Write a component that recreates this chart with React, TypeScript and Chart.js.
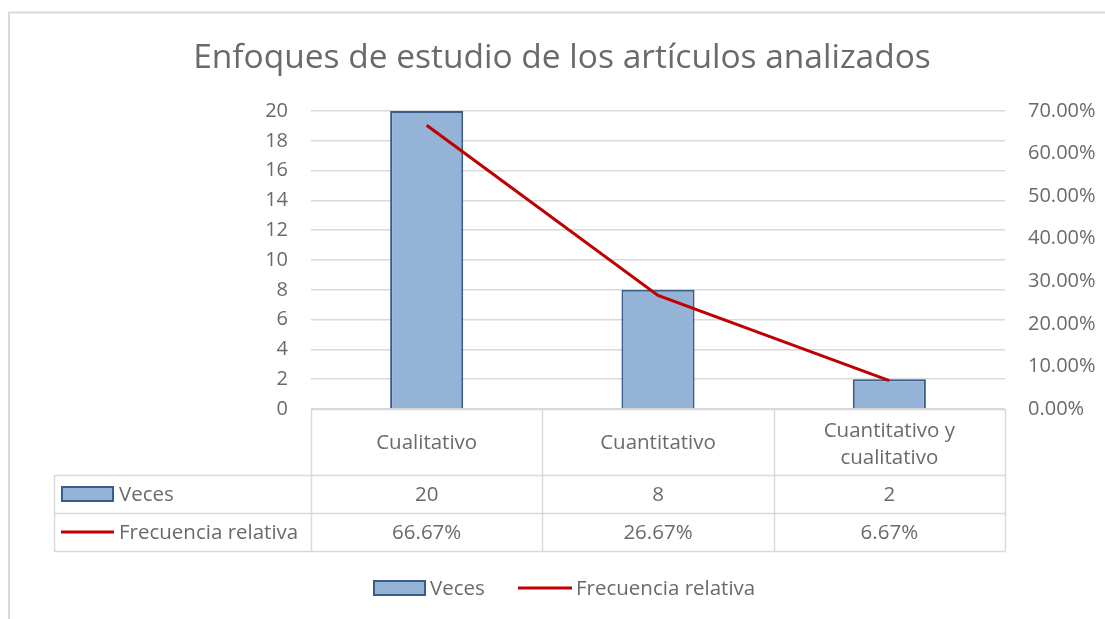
import React, { useEffect, useRef } from "react";
import { Chart, registerables } from "chart.js";

Chart.register(...registerables);

const TITLE = "Enfoques de estudio de los artículos analizados";
const CATEGORIES: (string | string[])[] = ["Cualitativo", "Cuantitativo", ["Cuantitativo y", "cualitativo"]];
const BAR_SERIES = "Veces";
const LINE_SERIES = "Frecuencia relativa";
const VECES = [20, 8, 2];
const FRECUENCIA = [0.6667, 0.2667, 0.0667];
const VECES_TEXT = ["20", "8", "2"];
const FRECUENCIA_TEXT = ["66.67%", "26.67%", "6.67%"];

const FONT = '"Open Sans", sans-serif';
const TEXT = "#6a6a6a";
const GRID = "#d9d9d9";
const BAR_FILL = "#95b3d7";
const BAR_EDGE = "#385d8a";
const LINE_COLOR = "#c00000";

const decor = {
  id: "decor",
  beforeDraw(chart: any) {
    const ctx = chart.ctx;
    ctx.save();
    ctx.fillStyle = "#ffffff";
    ctx.fillRect(0, 0, chart.width, chart.height);
    ctx.strokeStyle = GRID;
    ctx.lineWidth = 2;
    ctx.strokeRect(9, 12.5, chart.width + 50, chart.height + 50);
    ctx.restore();
  },
  afterDraw(chart: any) {
    const ctx = chart.ctx;
    const { left, right, bottom } = chart.chartArea;
    const xs = chart.scales.x;
    const n = CATEGORIES.length;
    const colW = (right - left) / n;
    const hdrB = bottom + 66;
    const r1B = hdrB + 38;
    const r2B = r1B + 38;
    const tableLeft = 54;
    ctx.save();

    // title
    ctx.fillStyle = TEXT;
    ctx.font = `33.5px ${FONT}`;
    ctx.textAlign = "center";
    ctx.textBaseline = "alphabetic";
    ctx.fillText(TITLE, 562, 68);

    // table grid
    ctx.strokeStyle = GRID;
    ctx.lineWidth = 1.5;
    ctx.beginPath();
    ctx.moveTo(left, bottom + 0.5);
    ctx.lineTo(right, bottom + 0.5);
    for (const y of [hdrB, r1B, r2B]) {
      ctx.moveTo(tableLeft, y + 0.5);
      ctx.lineTo(right, y + 0.5);
    }
    for (let i = 0; i <= n; i++) {
      const x = Math.round(left + i * colW) + 0.5;
      ctx.moveTo(x, bottom);
      ctx.lineTo(x, r2B + 0.5);
    }
    ctx.moveTo(tableLeft + 0.5, hdrB);
    ctx.lineTo(tableLeft + 0.5, r2B + 0.5);
    ctx.stroke();

    // table text
    ctx.fillStyle = TEXT;
    ctx.font = `20.5px ${FONT}`;
    ctx.textAlign = "center";
    for (let i = 0; i < n; i++) {
      const cx = xs.getPixelForValue(i);
      const lab = CATEGORIES[i];
      const lines = Array.isArray(lab) ? lab : [lab];
      if (lines.length === 1) {
        ctx.fillText(lines[0], cx, bottom + 40);
      } else {
        ctx.fillText(lines[0], cx, bottom + 28);
        ctx.fillText(lines[1], cx, bottom + 55);
      }
      ctx.fillText(VECES_TEXT[i], cx, hdrB + 26);
      ctx.fillText(FRECUENCIA_TEXT[i], cx, r1B + 26);
    }
    ctx.textAlign = "left";
    ctx.fillText(BAR_SERIES, 119, hdrB + 26);
    ctx.fillText(LINE_SERIES, 119, r1B + 26);

    // table legend keys
    ctx.fillStyle = BAR_FILL;
    ctx.strokeStyle = BAR_EDGE;
    ctx.lineWidth = 2;
    ctx.fillRect(62, hdrB + 12, 51, 14);
    ctx.strokeRect(62, hdrB + 12, 51, 14);
    ctx.strokeStyle = LINE_COLOR;
    ctx.lineWidth = 3;
    ctx.beginPath();
    ctx.moveTo(61, r1B + 19);
    ctx.lineTo(114, r1B + 19);
    ctx.stroke();

    // bottom legend
    const ly = 588;
    ctx.fillStyle = BAR_FILL;
    ctx.strokeStyle = BAR_EDGE;
    ctx.lineWidth = 2;
    ctx.fillRect(374, ly - 7, 51, 14);
    ctx.strokeRect(374, ly - 7, 51, 14);
    ctx.strokeStyle = LINE_COLOR;
    ctx.lineWidth = 3;
    ctx.beginPath();
    ctx.moveTo(518, ly);
    ctx.lineTo(572, ly);
    ctx.stroke();
    ctx.fillStyle = TEXT;
    ctx.textAlign = "left";
    ctx.fillText(BAR_SERIES, 430, ly + 7);
    ctx.fillText(LINE_SERIES, 576, ly + 7);

    ctx.restore();
  },
};

export default function App() {
  const ref = useRef<HTMLCanvasElement | null>(null);
  useEffect(() => {
    if (!ref.current) return;
    const chart = new Chart(ref.current, {
      type: "bar",
      data: {
        labels: CATEGORIES as any,
        datasets: [
          {
            type: "line",
            label: LINE_SERIES,
            data: FRECUENCIA,
            yAxisID: "y1",
            borderColor: LINE_COLOR,
            borderWidth: 3,
            pointRadius: 0,
            tension: 0,
            order: 0,
          } as any,
          {
            type: "bar",
            label: BAR_SERIES,
            data: VECES,
            yAxisID: "y",
            backgroundColor: BAR_FILL,
            borderColor: BAR_EDGE,
            borderWidth: 2,
            borderSkipped: "bottom",
            barPercentage: 0.316,
            categoryPercentage: 1,
            order: 1,
          },
        ],
      },
      options: {
        responsive: false,
        animation: false,
        devicePixelRatio: 1,
        layout: { padding: { top: 111, bottom: 210, left: 0, right: 0 } },
        plugins: {
          legend: { display: false },
          title: { display: false },
          tooltip: { enabled: false },
        },
        scales: {
          x: { display: false, offset: true },
          y: {
            position: "left",
            min: 0,
            max: 20,
            ticks: { stepSize: 2, padding: 23, color: TEXT, font: { family: FONT, size: 20 } },
            grid: { color: GRID, drawTicks: false, lineWidth: 1.5 },
            border: { display: false },
            afterFit(s: any) {
              s.width = 311;
            },
          },
          y1: {
            position: "right",
            min: 0,
            max: 0.7,
            ticks: {
              stepSize: 0.1,
              padding: 23,
              color: TEXT,
              font: { family: FONT, size: 20 },
              callback: (v: any) => (Number(v) * 100).toFixed(2) + "%",
            },
            grid: { display: false, drawTicks: false },
            border: { display: false },
            afterFit(s: any) {
              s.width = 100;
            },
          },
        },
      },
      plugins: [decor],
    });
    return () => chart.destroy();
  }, []);
  return (
    <div style={{ position: "fixed", left: 0, top: 0, width: 1105, height: 619, background: "#fff" }}>
      <canvas ref={ref} width={1105} height={619} />
    </div>
  );
}
